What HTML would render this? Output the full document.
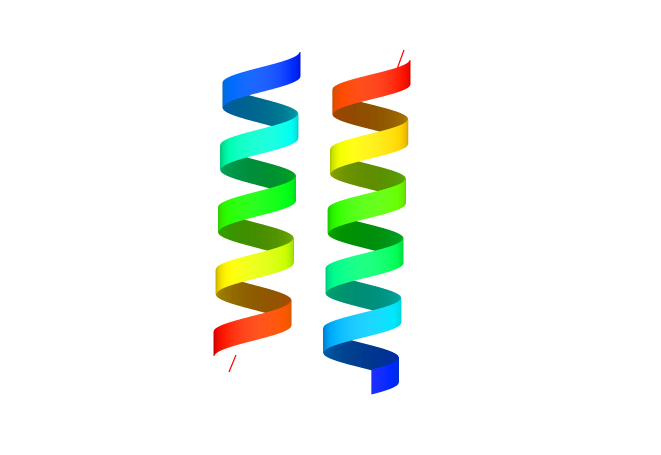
<!DOCTYPE html>
<html><head><meta charset="utf-8">
<style>
html,body{margin:0;padding:0;background:#fff;}
svg{display:block;}
</style></head>
<body>
<svg id="scene" width="661" height="455" viewBox="0 0 661 455">
<rect width="661" height="455" fill="#ffffff"/>
<g id="back"></g><g id="front"></g>
</svg>
<script>
const helixNames = ['helix-left','helix-right'];
const helixCxTop = [262, 372];
const helixCxBot = [252, 360];
const helixR = [38, 38];
const helixY0 = [64, 72];
const helixY1 = [344, 382];
const helixTurns = [4.5, 5.2];
const hueStart = [235, 0];
const hueEnd = [0, 235];
const ribbonW = 24;

const ns='http://www.w3.org/2000/svg';
const back=document.getElementById('back'), front=document.getElementById('front');
for(let h=0;h<2;h++){
  const g=document.createElementNS(ns,'g');
  
  
  const gb=document.createElementNS(ns,'g');
  
  
  back.appendChild(gb); front.appendChild(g);
  const N=700, T=helixTurns[h]*Math.PI*2, t0=-Math.PI/2;
  let prev=null;
  for(let i=0;i<=N;i++){
    const f=i/N, t=t0+f*T;
    const cx=helixCxTop[h]+(helixCxBot[h]-helixCxTop[h])*f;
    const x=cx-helixR[h]*Math.sin(t);
    const z=Math.cos(t);
    const y=helixY0[h]+(helixY1[h]-helixY0[h])*f;
    if(prev){
      const hue=hueStart[h]+(hueEnd[h]-hueStart[h])*f;
      const isFront=z>=0;
      const light=isFront?(40+16*z):(28+6*(1+z));
      const w=ribbonW/2;
      const p=document.createElementNS(ns,'polygon');
      p.setAttribute('points',`${prev[0]},${prev[1]-w} ${x},${y-w} ${x},${y+w} ${prev[0]},${prev[1]+w}`);
      const c=`hsl(${hue},100%,${light}%)`;
      p.setAttribute('fill',c);
      p.setAttribute('stroke',c);
      p.setAttribute('stroke-width','0.8');
      
      
      (isFront?g:gb).appendChild(p);
    }
    prev=[x,y];
  }
}
const tails=[[236,355,229,372],[396,72,404,50]];
tails.forEach((t,i)=>{
  const l=document.createElementNS(ns,'path');
  l.setAttribute('d',`M${t[0]},${t[1]} L${t[2]},${t[3]}`);
  l.setAttribute('stroke','#ff0000');l.setAttribute('fill','none');l.setAttribute('stroke-width','1.2');
  
  
  back.appendChild(l);
});
</script>
</body></html>
